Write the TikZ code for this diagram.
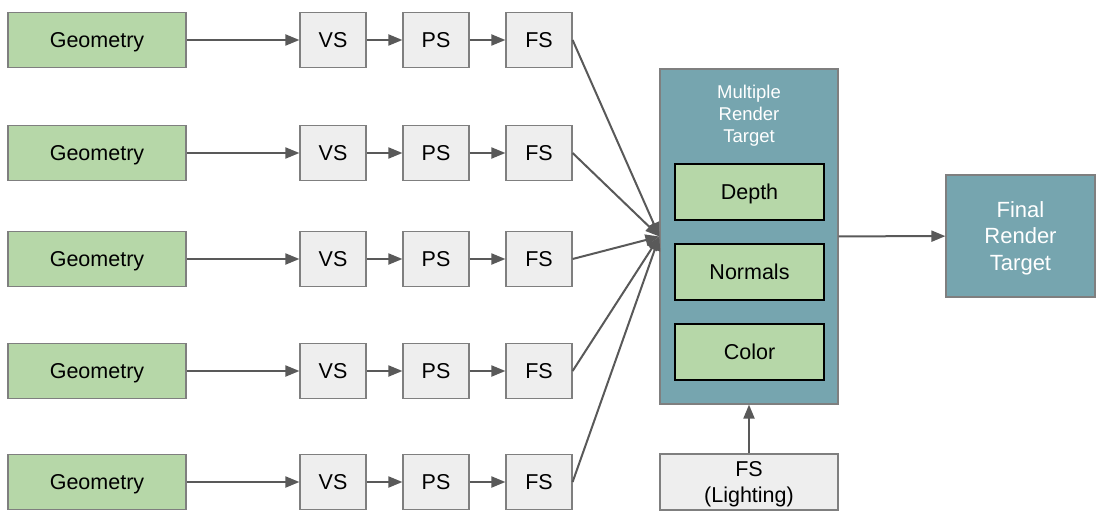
\documentclass[tikz,border=0pt]{standalone}
\usepackage{fontspec}
\setmainfont{Liberation Sans}
\usetikzlibrary{arrows.meta}
\definecolor{geo}{HTML}{B6D7A8}
\definecolor{shd}{HTML}{EEEEEE}
\definecolor{teal1}{HTML}{76A5AF}
\definecolor{edge}{HTML}{7F7F7F}
\definecolor{arr}{HTML}{595959}
\tikzset{
  box/.style={draw=edge, line width=1.2pt, inner sep=0pt, font=\fontsize{21.5}{25}\selectfont},
  one/.style={text height=15.5pt, text depth=0pt},
  geobox/.style={box, one, fill=geo, minimum width=178pt, minimum height=55pt},
  shbox/.style={box, one, fill=shd, minimum width=66pt, minimum height=55pt},
  tealbox/.style={box, fill=teal1, text=white},
  tgt/.style={draw=black, line width=2.5pt, fill=geo, inner sep=0pt, font=\fontsize{21.5}{25}\selectfont, one, minimum width=149pt, minimum height=56pt},
  conn/.style={draw=arr, line width=2pt, -{Triangle[length=14pt,width=11pt]}}
}
\begin{document}
\begin{tikzpicture}[x=1pt,y=-1pt]
\useasboundingbox (0,0) rectangle (1113,524);
\node[tealbox, minimum width=178pt, minimum height=335pt] (mrt) at (749,236.5) {};
\node[text=white, align=center, font=\fontsize{18.5}{22}\selectfont] (mrtl) at (749,116) {Multiple\\Render\\Target};
\node[tgt] (depth) at (749.5,192) {Depth};
\node[tgt] (normals) at (749.5,272) {Normals};
\node[tgt] (color) at (749.5,352) {Color};
\node[box, fill=shd, minimum width=178pt, minimum height=56pt] (light) at (749,482) {};
\node[align=center, font=\fontsize{21.5}{26}\selectfont] (lightl) at (749,484) {FS\\(Lighting)};
\node[tealbox, minimum width=149pt, minimum height=122pt] (final) at (1020.5,236) {};
\node[text=white, align=center, font=\fontsize{22}{26.5}\selectfont] (finall) at (1020.5,238) {Final\\Render\\Target};
\foreach \i/\y in {1/40,2/153,3/259,4/371,5/482}{
  \node[geobox] (g\i) at (97,\y) {Geometry};
  \node[shbox] (vs\i) at (333,\y) {VS};
  \node[shbox] (ps\i) at (436,\y) {PS};
  \node[shbox] (fs\i) at (539,\y) {FS};
  \draw[conn] (g\i) -- (vs\i);
  \draw[conn] (vs\i) -- (ps\i);
  \draw[conn] (ps\i) -- (fs\i);
  \draw[conn] (fs\i.east) -- (mrt.west);
}
\draw[conn] (mrt) -- (final);
\draw[conn] (light) -- (mrt);
\end{tikzpicture}
\end{document}
